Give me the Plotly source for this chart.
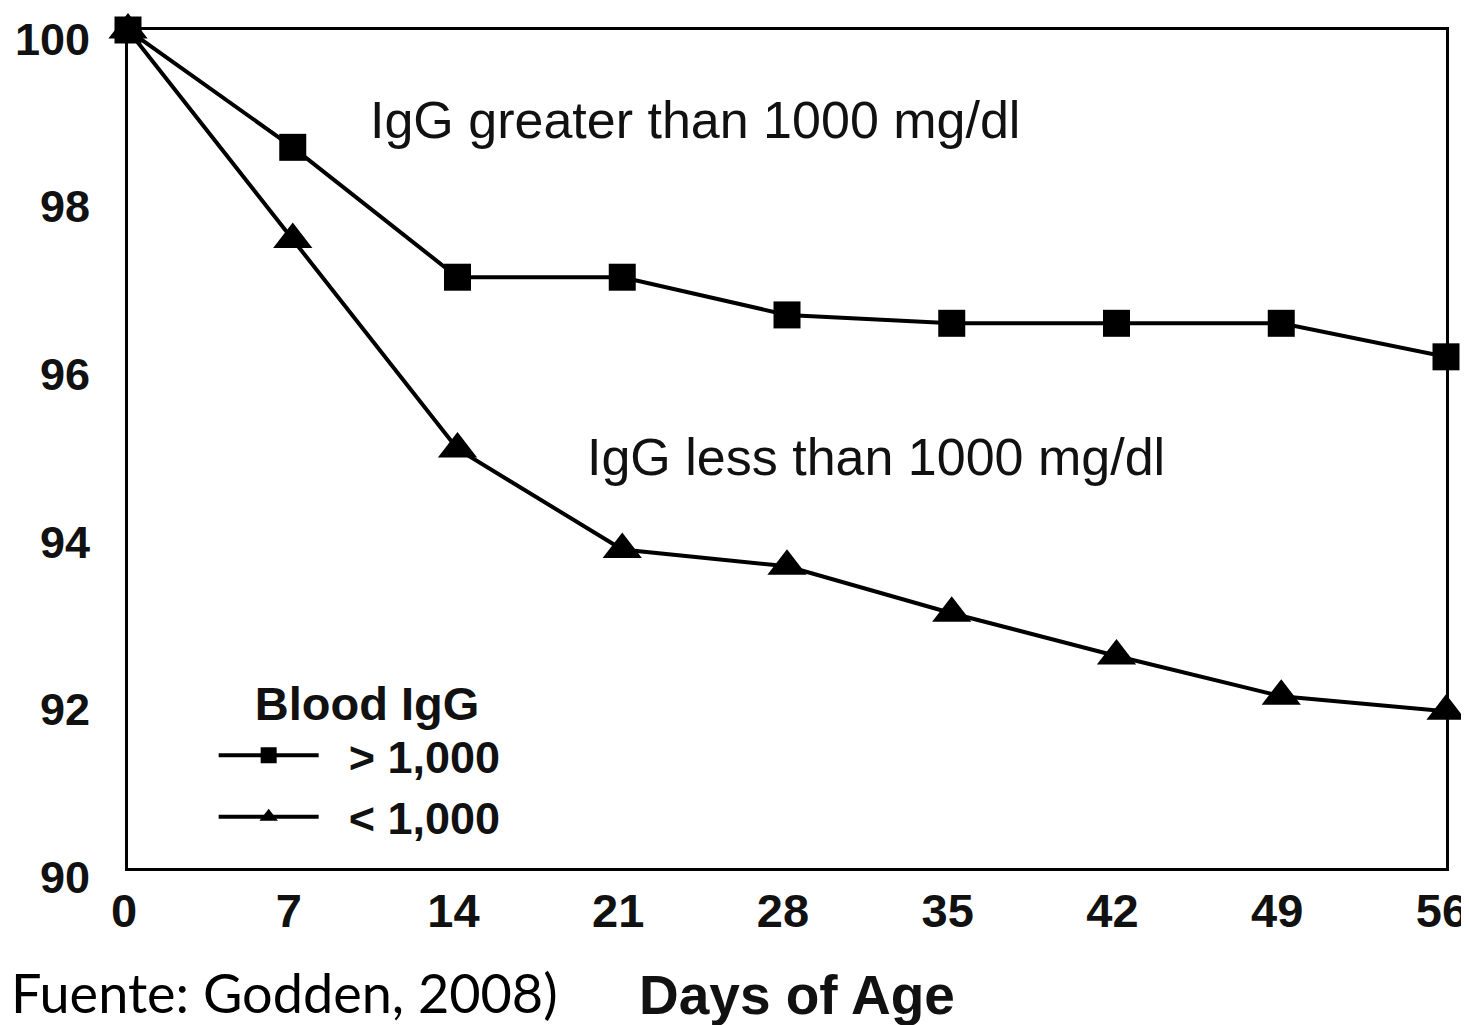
import plotly.graph_objects as go

days = [0, 7, 14, 21, 28, 35, 42, 49, 56]
igg_high = [100.0, 98.6, 97.05, 97.05, 96.6, 96.5, 96.5, 96.5, 96.1]
igg_low = [100.0, 97.5, 95.0, 93.8, 93.6, 93.04, 92.53, 92.05, 91.87]
x_ticks = [0, 7, 14, 21, 28, 35, 42, 49, 56]
y_ticks = [90, 92, 94, 96, 98, 100]

FONT = "Liberation Sans"
NB = "\u00a0"

fig = go.Figure()
# drawn first so the square sits on top at day 0
fig.add_trace(go.Scatter(
    x=days, y=igg_low, mode="lines+markers", name=NB * 2 + "< 1,000",
    line=dict(color="black", width=4),
    marker=dict(symbol="triangle-up", size=34, color="black"),
    cliponaxis=False,
))
fig.add_trace(go.Scatter(
    x=days, y=igg_high, mode="lines+markers", name=NB * 2 + "> 1,000",
    line=dict(color="black", width=4),
    marker=dict(symbol="square", size=27, color="black"),
    cliponaxis=False,
))

fig.add_annotation(x=24.1, y=98.93, xref="x", yref="y", text="IgG greater than 1000 mg/dl",
                   showarrow=False, font=dict(family=FONT, size=52, color="#111"))
fig.add_annotation(x=31.8, y=94.9, xref="x", yref="y", text="IgG less than 1000 mg/dl",
                   showarrow=False, font=dict(family=FONT, size=52, color="#111"))
fig.add_annotation(x=-0.0905, y=-0.149, xref="paper", yref="paper", text="Fuente: Godden, 2008)",
                   xanchor="left", yanchor="middle", showarrow=False,
                   font=dict(family="Lato", size=54, color="black"))
fig.add_annotation(x=0.5076, y=-0.151, xref="paper", yref="paper", text="<b>Days of Age</b>",
                   xanchor="center", yanchor="middle", showarrow=False,
                   font=dict(family=FONT, size=55, color="#111"))

# the page body adds an 8 px offset, so the figure is 16 px smaller and margins shifted
fig.update_layout(
    width=1461, height=1017,
    margin=dict(l=120, r=23, t=22, b=157, autoexpand=False),
    paper_bgcolor="white", plot_bgcolor="white",
    showlegend=True,
    legend=dict(
        x=0.065, y=0.25, xanchor="left", yanchor="top",
        bgcolor="rgba(0,0,0,0)", traceorder="reversed",
        title=dict(text=NB * 3 + "<b>Blood IgG</b>", font=dict(family=FONT, size=47, color="#111")),
        font=dict(family=FONT, size=45, color="#111", weight="bold"),
        itemwidth=100, tracegroupgap=0,
    ),
)
fig.update_xaxes(
    range=[0, 56], tickvals=x_ticks, ticktext=[str(v) for v in x_ticks],
    showgrid=False, zeroline=False, showline=True, mirror=True, automargin=False,
    linecolor="black", linewidth=3, ticks="", ticklabelstandoff=0, ticklabelshift=-4,
    ticklabeloverflow="allow",
    tickfont=dict(family=FONT, size=47, color="#111", weight="bold"),
)
fig.update_yaxes(
    range=[90, 100], tickvals=y_ticks, ticktext=[str(v) for v in y_ticks],
    showgrid=False, zeroline=False, showline=True, mirror=True, automargin=False,
    linecolor="black", linewidth=3, ticks="", ticklabelstandoff=26, ticklabelshift=9,
    ticklabeloverflow="allow",
    tickfont=dict(family=FONT, size=45, color="#111", weight="bold"),
)

fig.write_html("out.html")
